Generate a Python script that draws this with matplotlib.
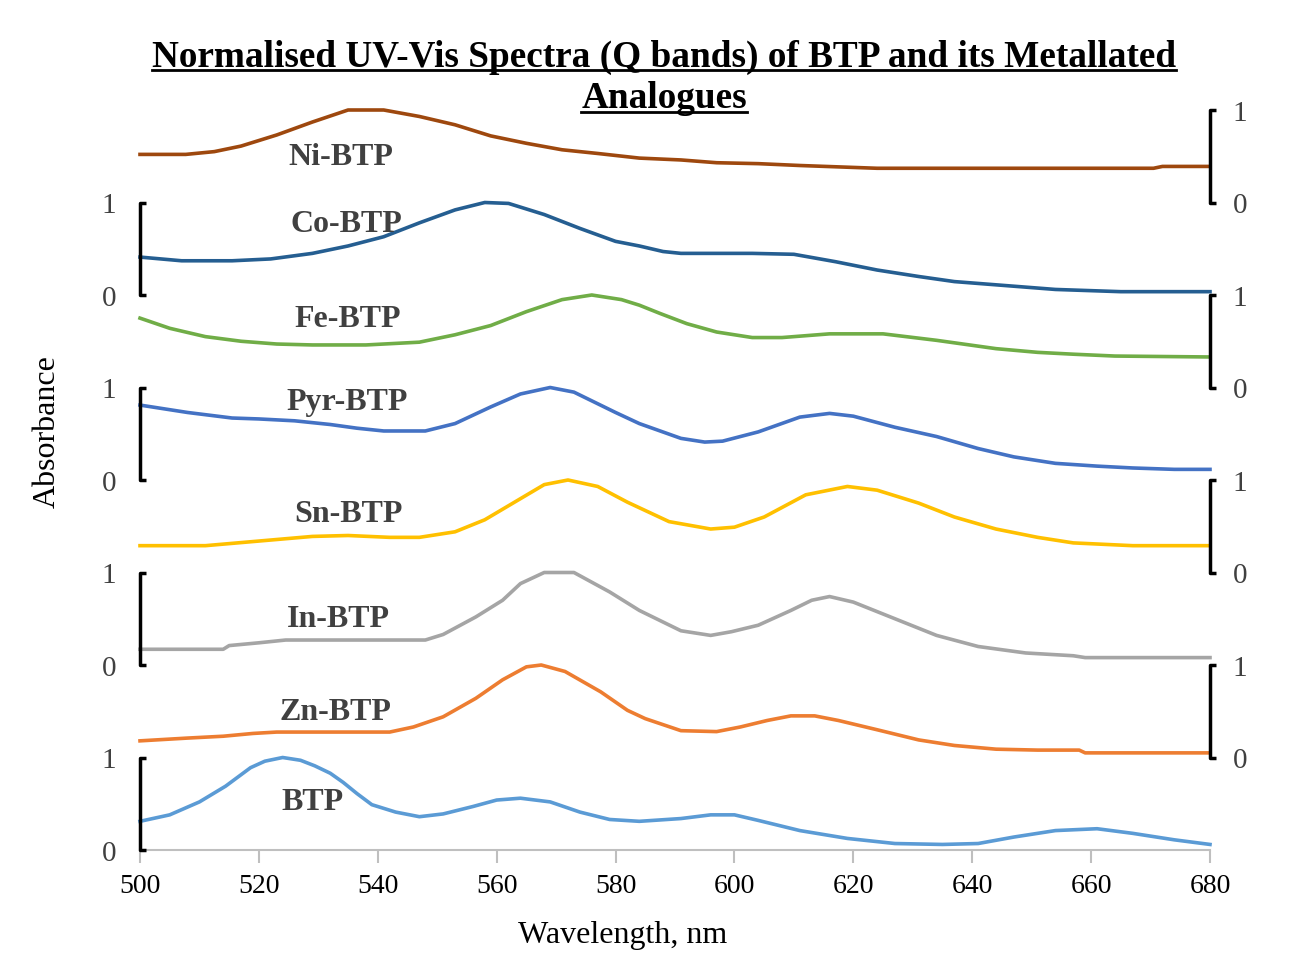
import numpy as np
import matplotlib.pyplot as plt
from matplotlib.lines import Line2D

plt.rcParams['font.family'] = ['Liberation Serif', 'DejaVu Serif']

# ---- data (normalised absorbance) ----
names = ['BTP', 'Zn-BTP', 'In-BTP', 'Sn-BTP', 'Pyr-BTP', 'Fe-BTP', 'Co-BTP', 'Ni-BTP']
colors = ['#5B9BD5', '#ED7D31', '#A5A5A5', '#FFC000', '#4472C4', '#70AD47', '#255E91', '#9E480E']
offsets = [0, 1, 2, 3, 4, 5, 6, 7]

btp_wl = [500, 505, 510, 514.4, 518.6, 521, 524, 527, 529.4, 532, 534.2, 536.5, 539, 543, 547, 551,
          556, 560, 564, 569, 574, 579, 584, 591, 596, 600, 604, 611, 619, 627, 635, 641, 647, 654,
          661, 667, 674, 680]
btp = [0.31, 0.38, 0.52, 0.69, 0.89, 0.96, 1.0, 0.97, 0.91, 0.83, 0.73, 0.61, 0.49, 0.41, 0.36, 0.39,
       0.47, 0.54, 0.56, 0.52, 0.41, 0.33, 0.31, 0.34, 0.38, 0.38, 0.32, 0.21, 0.125, 0.07, 0.06, 0.07,
       0.14, 0.21, 0.23, 0.18, 0.11, 0.06]

zn_wl = [500, 508, 514, 519, 523, 542, 546, 551, 556.5, 561, 565, 567.5, 571.5, 577.5, 582, 585, 591,
         597, 601, 605.5, 609.5, 613.5, 617.5, 624, 631, 637, 644, 651, 658, 659, 680]
zn = [0.18, 0.21, 0.23, 0.26, 0.275, 0.275, 0.33, 0.44, 0.64, 0.84, 0.98, 1.0, 0.93, 0.71, 0.51, 0.42,
      0.29, 0.28, 0.33, 0.40, 0.45, 0.45, 0.40, 0.30, 0.19, 0.13, 0.09, 0.08, 0.08, 0.05, 0.05]

in_wl = [500, 514, 515, 520, 524.5, 548, 551, 556.5, 561, 564, 568, 573, 579, 584, 591, 596, 599.5,
         604, 609.5, 613, 616, 620, 627, 634, 641, 649, 657, 659, 680]
in_ = [0.17, 0.17, 0.21, 0.24, 0.27, 0.27, 0.33, 0.52, 0.70, 0.88, 1.0, 1.0, 0.79, 0.59, 0.37, 0.32,
       0.36, 0.43, 0.59, 0.70, 0.74, 0.68, 0.50, 0.32, 0.20, 0.13, 0.10, 0.08, 0.08]

sn_wl = [500, 511, 520, 529, 535, 542, 547, 553, 558, 563, 568, 572, 577, 582, 589, 596, 600, 605,
         612, 619, 624, 631, 637, 644, 651, 657, 667, 680]
sn = [0.29, 0.29, 0.34, 0.39, 0.40, 0.38, 0.38, 0.44, 0.57, 0.76, 0.95, 1.0, 0.93, 0.76, 0.55, 0.47,
      0.49, 0.60, 0.84, 0.93, 0.89, 0.75, 0.60, 0.47, 0.38, 0.32, 0.29, 0.29]

pyr_wl = [500, 508, 515.5, 520, 526, 532, 536.5, 541, 548, 553, 559, 564, 569, 573, 580, 584, 591,
          595, 598, 604, 611, 616, 620, 627, 634, 641, 647, 654, 661, 667, 674, 680]
pyr = [0.81, 0.73, 0.67, 0.66, 0.64, 0.60, 0.56, 0.53, 0.53, 0.61, 0.79, 0.93, 1.0, 0.95, 0.73, 0.61,
       0.45, 0.41, 0.42, 0.52, 0.68, 0.72, 0.69, 0.57, 0.47, 0.34, 0.25, 0.18, 0.15, 0.13, 0.115, 0.115]

fe_wl = [500, 505, 511, 517, 523, 529, 538, 547, 553, 559, 565, 571, 576, 581, 584, 587.5, 592, 597,
         603, 608, 616, 625, 634, 644, 651, 657, 664, 680]
fe = [0.75, 0.64, 0.55, 0.50, 0.47, 0.46, 0.46, 0.49, 0.57, 0.67, 0.82, 0.95, 1.0, 0.95, 0.89, 0.80,
      0.69, 0.60, 0.54, 0.54, 0.58, 0.58, 0.51, 0.42, 0.38, 0.36, 0.34, 0.33]

co_wl = [500, 507, 515.5, 522, 529, 535, 541, 547, 553, 558, 562, 568, 574, 580, 584, 588, 591, 603,
         610, 617, 624, 631, 637, 644, 654, 665, 680]
co = [0.41, 0.37, 0.37, 0.39, 0.45, 0.53, 0.63, 0.78, 0.92, 1.0, 0.99, 0.87, 0.72, 0.58, 0.53, 0.47,
      0.45, 0.45, 0.44, 0.36, 0.27, 0.20, 0.145, 0.11, 0.06, 0.036, 0.036]

ni_wl = [500, 507.7, 512.5, 517, 523, 529, 535, 541, 547, 553, 559, 565, 571, 577, 584, 591, 597,
         604, 611, 624, 670.5, 672, 680]
ni = [0.52, 0.52, 0.55, 0.61, 0.73, 0.87, 1.0, 1.0, 0.93, 0.84, 0.72, 0.64, 0.57, 0.53, 0.48, 0.46,
      0.43, 0.42, 0.40, 0.37, 0.37, 0.39, 0.39]

wls = [btp_wl, zn_wl, in_wl, sn_wl, pyr_wl, fe_wl, co_wl, ni_wl]
vals = [btp, zn, in_, sn, pyr, fe, co, ni]

x_ticks = [500, 520, 540, 560, 580, 600, 620, 640, 660, 680]

# ---- figure ----
fig = plt.figure(figsize=(13.08, 9.63), dpi=100)
ax = fig.add_axes([140 / 1308, 1 - 850 / 963, 1070 / 1308, 740 / 963])

for wl, v, off, c in zip(wls, vals, offsets, colors):
    ax.plot(wl, np.array(v) + off, color=c, lw=2.6, clip_on=False, zorder=3)

# series labels
label_pos = [(529.1, 0.51), (532.9, 1.49), (533.3, 2.49), (535.0, 3.63),
             (534.8, 4.84), (535.0, 5.73), (534.8, 6.76), (533.7, 7.49)]
for name, (lx, ly) in zip(names, label_pos):
    ax.text(lx, ly, name, ha='center', va='center', fontsize=23, fontweight='bold',
            color='#404040', zorder=4)

# scale brackets: left for even offsets, right for odd
for off in offsets:
    xb = 500 if off % 2 == 0 else 680
    ax.plot([xb + 1.0, xb, xb, xb + 1.0], [off, off, off + 1, off + 1], color='black',
            lw=2.5, clip_on=False, zorder=5, solid_capstyle='butt')
    xt = 494.8 if off % 2 == 0 else 685
    ax.text(xt, off - 0.04, '0', ha='center', va='center', fontsize=21, color='#404040')
    ax.text(xt, off + 1 - 0.04, '1', ha='center', va='center', fontsize=21, color='#404040')

ax.set_xlim(500, 680)
ax.set_ylim(0, 8)
ax.set_xticks(x_ticks)
ax.set_xticklabels([str(t) for t in x_ticks], fontsize=20, color='black')
ax.set_yticks([])
for s in ['left', 'right', 'top']:
    ax.spines[s].set_visible(False)
ax.spines['bottom'].set_color('#BFBFBF')
ax.spines['bottom'].set_linewidth(1.5)
ax.tick_params(axis='x', direction='out', length=9, width=1.5, color='#BFBFBF', pad=8)

fig.text(47 / 1308, 1 - 432 / 963, 'Absorbance', rotation=90, ha='center', va='center',
         fontsize=23)
fig.text(623 / 1308, 1 - 935 / 963, 'Wavelength, nm', ha='center', va='center', fontsize=23)

# title with underline
t1 = fig.text(664 / 1308, 1 - 57 / 963,
              'Normalised UV-Vis Spectra (Q bands) of BTP and its Metallated',
              ha='center', va='center', fontsize=26.8, fontweight='bold')
t2 = fig.text(664 / 1308, 1 - 99 / 963, 'Analogues', ha='center', va='center',
              fontsize=26.8, fontweight='bold')
fig.canvas.draw()
r = fig.canvas.get_renderer()
for t in (t1, t2):
    bb = t.get_window_extent(renderer=r)
    x0, x1 = bb.x0 / 1308, bb.x1 / 1308
    yb = (bb.y0 + 0.12 * bb.height) / 963
    fig.add_artist(Line2D([x0, x1], [yb, yb], color='black', lw=2.0, transform=fig.transFigure))

fig.savefig('out.png', dpi=100)
